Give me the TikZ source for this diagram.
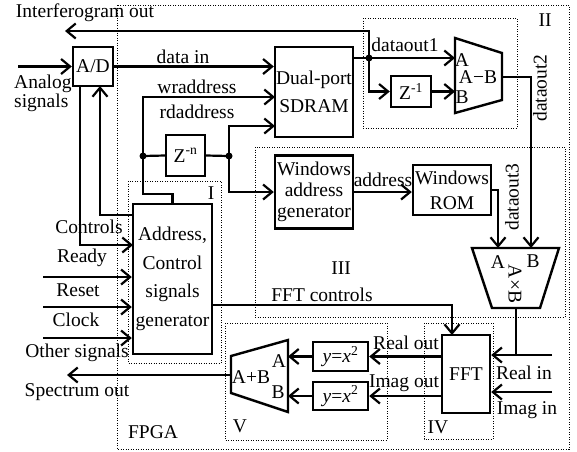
\documentclass[tikz,border=0pt]{standalone}
\usepackage{fontspec}
\setmainfont{Liberation Serif}
\usetikzlibrary{arrows.meta}

\begin{document}
\begin{tikzpicture}[x=1pt,y=-1pt,
        every node/.style={font=\fontsize{19.5}{22}\selectfont, inner sep=0pt},
        box/.style={draw, line width=2.4pt, align=center},
        unit/.style={line width=2.4pt, line join=miter},
        wire/.style={line width=2.2pt},
        arr/.style={wire, -{Straight Barb[length=9pt,width=15pt]}},
        region/.style={line width=1pt, dash pattern=on 1pt off 1.5pt},
        junction/.style={circle, fill, minimum size=7pt}]
    \useasboundingbox (0,0) rectangle (577,451);

    % dotted regions
    \draw[region] (117,5) rectangle (569,449);
    \draw[region] (363,18) rectangle (517,128);
    \draw[region] (255,147) rectangle (565,317);
    \draw[region] (128,181) rectangle (221,363);
    \draw[region] (424,323) rectangle (493,439);
    \draw[region] (225,323) rectangle (387,440);
    \node (regII) at (545,20) {II};
    \node (regI) at (211,193) {I};
    \node (regIII) at (341,268) {III};
    \node (regIV) at (438,427) {IV};
    \node (regV) at (240,426) {V};
    \node (fpga) at (153,432) {FPGA};

    % blocks
    \node[box, minimum width=40, minimum height=39] (ad) at (93,66.5) {A/D};
    \node[box, minimum width=78, minimum height=90, font=\fontsize{19.5}{28}\selectfont] (sdram) at (314,92) {Dual-port\\SDRAM};
    \node[box, minimum width=39, minimum height=41] (zn) at (185.5,155.5) {Z\textsuperscript{-n}};
    \node[box, minimum width=40, minimum height=31] (zone) at (411,91.5) {Z\textsuperscript{-1}};
    \node[box, minimum width=78, minimum height=73, font=\fontsize{19.5}{21}\selectfont] (wag) at (314,192) {Windows\\address\\generator};
    \node[box, minimum width=78, minimum height=50, font=\fontsize{19.5}{25}\selectfont] (rom) at (452,190) {Windows\\ROM};
    \node[box, minimum width=79, minimum height=150, font=\fontsize{19.5}{28.5}\selectfont] (gen) at (172.5,279) {Address,\\Control\\signals\\generator};
    \node[box, minimum width=48, minimum height=78] (fft) at (466,374) {FFT};
    \node[box, minimum width=55, minimum height=29] (sqre) at (340.5,356.5) {\textit{y}=\textit{x}\textsuperscript{2}};
    \node[box, minimum width=55, minimum height=28] (sqim) at (340.5,396) {\textit{y}=\textit{x}\textsuperscript{2}};

    % A-B, A x B and A+B units
    \draw[unit] (455,38) -- (502,53) -- (502,100) -- (455,113) -- cycle;
    \node (subA) at (462,60) {A};
    \node (subAB) at (478,77) {A−B};
    \node (subB) at (462,97) {B};
    \draw[unit] (472,248) -- (559,248) -- (540,308) -- (492,308) -- cycle;
    \node (mulAl) at (498,262) {A};
    \node (mulBl) at (533,261) {B};
    \node[rotate=-90] (mulAB) at (515,284) {A×B};
    \draw[unit] (231,356) -- (288,340) -- (288,412) -- (231,393) -- cycle;
    \node (addAl) at (279,361) {A};
    \node (addBl) at (278,392) {B};
    \node (addAB) at (251,377) {A+B};

    % ports and bends
    \coordinate (analog) at (18,66.5);
    \coordinate (iout) at (65,31);
    \coordinate (jw) at (143,156);
    \coordinate (jr) at (229,156);
    \coordinate (jd) at (369,58);
    \coordinate (dout) at (353,58);
    \coordinate (inA) at (455,58);
    \coordinate (inB) at (455,92);
    \coordinate (subout) at (502,77);
    \coordinate (wrbend) at (143,194);
    \coordinate (wrin) at (275,97);
    \coordinate (rdin) at (275,126);
    \coordinate (mulA) at (498,248);
    \coordinate (mulB) at (531,248);
    \coordinate (mulout) at (516,308);
    \coordinate (realsrc) at (552,355);
    \coordinate (imagsrc) at (552,392);
    \coordinate (addA) at (288,356.5);
    \coordinate (addB) at (288,396);
    \coordinate (addout) at (231,375);
    \coordinate (sout) at (67,375);
    \coordinate (fftc) at (212,305);
    \coordinate (fftin) at (452,335);
    \coordinate (adc) at (80,86);
    \coordinate (ctlin) at (133,245);
    \coordinate (genad) at (133,215);
    \coordinate (adin) at (100,86);

    % connectors
    \draw[arr] (analog) -- (ad.west);
    \draw[arr] (jd) |- (iout);
    \draw[arr] (ad.east) -- (ad.east -| sdram.west);
    \draw[arr] (gen.north) |- (wrbend) |- (wrin);
    \draw[wire] (jw) -- (zn.west) (zn.east) -- (jr);
    \draw[arr] (jr) |- (rdin);
    \draw[arr] (jr) |- (wag.west);
    \draw[arr] (wag.east) -- (wag.east -| rom.west);
    \draw[arr] (rom.east) -| (mulA);
    \draw[arr] (dout) -- (inA);
    \draw[arr] (jd) |- (zone.west);
    \draw[arr] (zone.east) -- (zone.east -| inB);
    \draw[arr] (subout) -| (mulB);
    \draw[wire] (mulout) -- (mulout |- realsrc);
    \draw[arr] (realsrc) -- (realsrc -| fft.east);
    \draw[arr] (imagsrc) -- (imagsrc -| fft.east);
    \draw[arr] (sqre.east -| fft.west) -- (sqre.east);
    \draw[arr] (sqim.east -| fft.west) -- (sqim.east);
    \draw[arr] (sqre.west) -- (addA);
    \draw[arr] (sqim.west) -- (addB);
    \draw[arr] (addout) -- (sout);
    \draw[arr] (fftc) -| (fftin);
    \draw[arr] (adc) |- (ctlin);
    \draw[arr] (genad) -| (adin);
    \foreach \y/\n in {277/ready,307/reset,338/clock} {
        \coordinate (\n) at (43,\y);
        \draw[arr] (\n) -- (\n -| gen.west);
    }
    \foreach \j in {jw,jr,jd}
        \node[junction] at (\j) {};

    % signal labels
    \node (lblint) at (85,13) {Interferogram out};
    \node[anchor=west, align=left, font=\fontsize{19.5}{17}\selectfont] (lblan) at (14,93) {Analog\\signals};
    \node (lbldata) at (183,57) {data in};
    \node (lblwr) at (197,87) {wraddress};
    \node (lblrd) at (197,112) {rdaddress};
    \node (lbld1) at (405,45) {dataout1};
    \node[rotate=90] (lbld2) at (540,88) {dataout2};
    \node[rotate=90] (lbld3) at (512,197) {dataout3};
    \node (lbladdr) at (383,180) {address};
    \node (lblfftc) at (322,295) {FFT controls};
    \node (lblctl) at (89,227) {Controls};
    \node (lblrdy) at (82,258) {Ready};
    \node (lblrst) at (78,290) {Reset};
    \node (lblclk) at (76,320) {Clock};
    \node (lbloth) at (77,353) {Other signals};
    \node (lblspec) at (77,392) {Spectrum out};
    \node (lblre) at (406,343) {Real out};
    \node (lblim) at (404,383) {Imag out};
    \node (lblrein) at (524,373) {Real in};
    \node (lblimin) at (527,410) {Imag in};
\end{tikzpicture}
\end{document}
